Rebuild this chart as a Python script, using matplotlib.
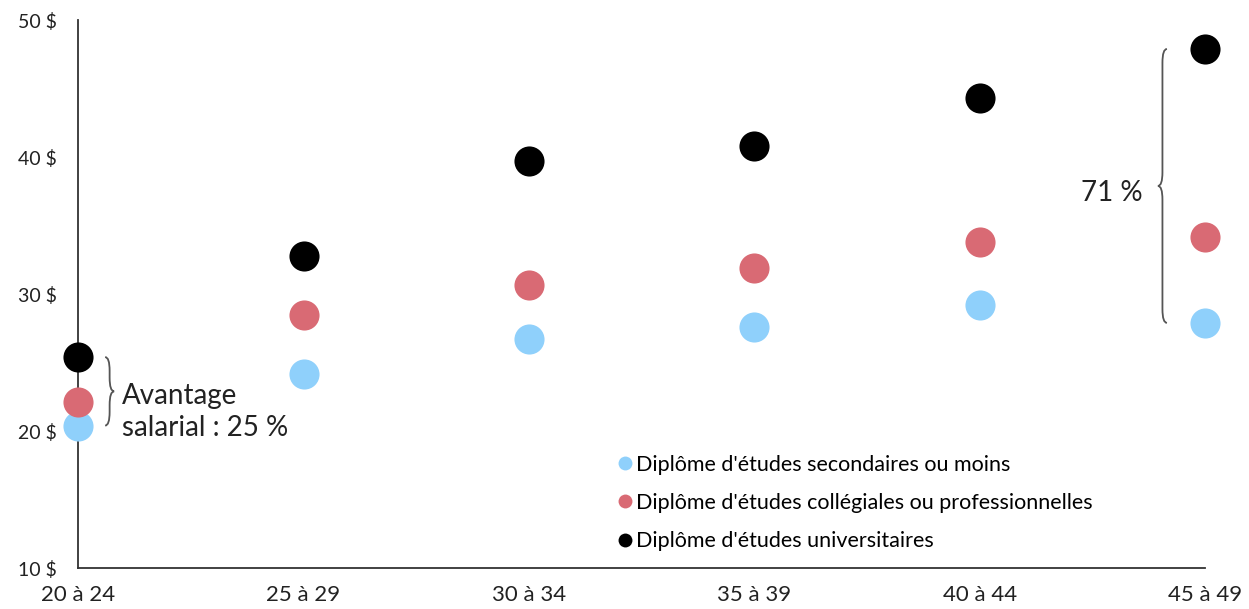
import matplotlib
matplotlib.use("Agg")
import matplotlib.pyplot as plt
from matplotlib.path import Path
from matplotlib.patches import PathPatch
from matplotlib.lines import Line2D
import numpy as np

plt.rcParams['font.family'] = ['Lato', 'DejaVu Sans']

AGES = ["20 à 24", "25 à 29", "30 à 34", "35 à 39", "40 à 44", "45 à 49"]
SECONDAIRE = [20.4, 24.2, 26.7, 27.6, 29.2, 27.9]
COLLEGIAL = [22.1, 28.5, 30.7, 31.9, 33.8, 34.2]
UNIVERSITE = [25.4, 32.8, 39.7, 40.8, 44.3, 47.9]
Y_TICKS = [10, 20, 30, 40, 50]
LABELS = ["Diplôme d'études secondaires ou moins",
          "Diplôme d'études collégiales ou professionnelles",
          "Diplôme d'études universitaires"]
COLORS = ["#8fd0fb", "#d96a74", "#000000"]


def brace(ax, x, y_top, y_bot, w, side=1, color="#555555", lw=1.3):
    """vertical curly brace; side=1 tip points right, -1 tip points left"""
    ym = (y_top + y_bot) / 2
    r = 1.0
    xm = x + side * w / 2
    xt = x + side * w
    verts = [(x, y_top), (xm, y_top), (xm, y_top - r),
             (xm, ym + r), (xm, ym), (xt, ym),
             (xm, ym), (xm, ym - r),
             (xm, y_bot + r), (xm, y_bot), (x, y_bot)]
    codes = [Path.MOVETO, Path.CURVE3, Path.CURVE3,
             Path.LINETO, Path.CURVE3, Path.CURVE3,
             Path.CURVE3, Path.CURVE3,
             Path.LINETO, Path.CURVE3, Path.CURVE3]
    ax.add_patch(PathPatch(Path(verts, codes), fill=False, ec=color, lw=lw,
                           clip_on=False))


fig = plt.figure(figsize=(12.49, 6.09), dpi=100)
ax = fig.add_axes([0.0625, 0.0673, 0.9025, 0.8995])
x = np.arange(len(AGES))

for vals, c in zip([SECONDAIRE, COLLEGIAL, UNIVERSITE], COLORS):
    ax.scatter(x, vals, s=470, color=c, lw=0, zorder=5, clip_on=False)

ax.set_xlim(0, len(AGES) - 1)
ax.set_ylim(10, 50)
ax.set_yticks(Y_TICKS)
ax.set_yticklabels([f"{v} $" for v in Y_TICKS])
ax.set_xticks(x)
ax.set_xticklabels(AGES)
ax.tick_params(length=0, colors="#222222")
ax.tick_params(axis="y", pad=15, labelsize=14)
ax.tick_params(axis="x", pad=12, labelsize=16)
for s in ["top", "right"]:
    ax.spines[s].set_visible(False)
for s in ["left", "bottom"]:
    ax.spines[s].set_color("#333333")
    ax.spines[s].set_linewidth(1.3)

# brackets
brace(ax, 0.12, UNIVERSITE[0], SECONDAIRE[0], 0.04, side=1)
ax.text(0.195, (UNIVERSITE[0] + SECONDAIRE[0]) / 2 - 1.5,
        "Avantage\nsalarial : 25 %", fontsize=20, va="center", ha="left",
        color="#222222", linespacing=1.3)
brace(ax, 4.83, UNIVERSITE[-1], SECONDAIRE[-1], 0.04, side=-1)
ax.text(4.72, (UNIVERSITE[-1] + SECONDAIRE[-1]) / 2 - 0.5, "71 %", fontsize=20,
        va="center", ha="right", color="#222222")

handles = [Line2D([], [], ls="", marker="o", ms=10, color=c, mec="none")
           for c in COLORS]
ax.legend(handles, LABELS, loc="lower left", bbox_to_anchor=(0.468, 0.015),
          frameon=False, fontsize=15.5, handletextpad=0.0, handlelength=1.0,
          labelspacing=0.85, borderaxespad=0)

fig.savefig("out.png", dpi=100)
